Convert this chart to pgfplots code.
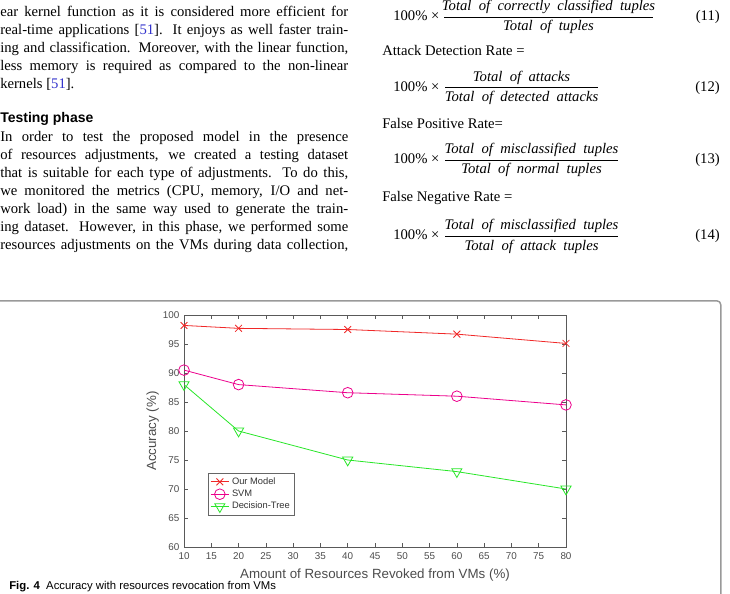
\documentclass[border=0pt]{standalone}
\usepackage{pgfplots}
\pgfplotsset{compat=1.18}
\usepackage{fontspec}
\setmainfont{Liberation Serif}
\setsansfont{Liberation Sans}
\definecolor{citeblue}{rgb}{0.2,0.2,0.8}
\definecolor{framegray}{gray}{0.6}
\newcommand{\cit}[1]{[\textcolor{citeblue}{#1}]}
\newcommand{\Lj}[2]{\node[anchor=base west,inner sep=0pt] at (0,#1) {\hbox to 261pt{#2}};}
\newcommand{\Ll}[2]{\node[anchor=base west,inner sep=0pt] at (0,#1) {#2};}
\newcommand{\Fr}[6]{% y-bar, x1, x2, numerator, denominator, number
  \draw[line width=0.45pt] (#2,#1) -- (#3,#1);
  \node[anchor=base,inner sep=0pt] at ({(#2+#3)/2},#1-6) {\itshape #4};
  \node[anchor=base,inner sep=0pt] at ({(#2+#3)/2},#1+14) {\itshape #5};
  \node[anchor=base west,inner sep=0pt] at (393,#1+4) {100\% ×};
  \node[anchor=base east,inner sep=0pt] at (720,#1+4) {(#6)};}
\begin{document}
\begin{tikzpicture}
\path[use as bounding box] (0,0) rectangle (547.5pt,444.75pt);
\clip (0,0) rectangle (547.5pt,444.75pt);
\begin{scope}[x=0.75pt,y=-0.75pt,yshift=444.75pt]
\fontsize{11}{13}\selectfont
% left column
\Lj{16.7}{ear kernel function as it is considered more efficient for}
\Lj{34.5}{real-time applications \cit{51}. It enjoys as well faster train-}
\Lj{52.5}{ing and classification. Moreover, with the linear function,}
\Lj{70.5}{less memory is required as compared to the non-linear}
\Ll{88.3}{kernels \cit{51}.}
\node[anchor=base west,inner sep=0pt] at (0,123) {\sffamily\bfseries\fontsize{10.5}{12}\selectfont Testing phase};
\Lj{141.7}{In order to test the proposed model in the presence}
\Lj{159.8}{of resources adjustments, we created a testing dataset}
\Lj{177.6}{that is suitable for each type of adjustments. To do this,}
\Lj{195.5}{we monitored the metrics (CPU, memory, I/O and net-}
\Lj{213.3}{work load) in the same way used to generate the train-}
\Lj{231.2}{ing dataset. However, in this phase, we performed some}
\Lj{249.2}{resources adjustments on the VMs during data collection,}
% right column
\Fr{17}{444}{653}{Total\ \ of\ \ correctly\ \ classified\ \ tuples}{Total\ \ of\ \ tuples}{11}
\node[anchor=base west,inner sep=0pt] at (382,56) {Attack Detection Rate =};
\Fr{87.7}{445}{598}{Total\ \ of\ \ attacks}{Total\ \ of\ \ detected\ \ attacks}{12}
\node[anchor=base west,inner sep=0pt] at (382,129) {False Positive Rate=};
\Fr{160}{445}{618}{Total\ \ of\ \ misclassified\ \ tuples}{Total\ \ of\ \ normal\ \ tuples}{13}
\node[anchor=base west,inner sep=0pt] at (382,201.7) {False Negative Rate =};
\Fr{236}{445}{618}{Total\ \ of\ \ misclassified\ \ tuples}{Total\ \ of\ \ attack\ \ tuples}{14}
% figure frame
\draw[framegray,line width=1.1pt,rounded corners=3] (-10,300.8) -- (720.8,300.8) -- (720.8,620);
\node[anchor=base west,inner sep=0pt] at (9,589.5) {\sffamily\fontsize{8.5}{10}\selectfont\textbf{Fig. 4}\ \ Accuracy with resources revocation from VMs};
\end{scope}
\begin{axis}[
  at={(138pt,34.5pt)}, anchor=south west,
  scale only axis, width=286.5pt, height=174pt,
  xmin=10, xmax=80, ymin=60, ymax=100,
  xtick={10,15,...,80}, ytick={60,65,...,100},
  tick align=inside, tick pos=both,
  major tick length=3pt,
  axis line style={black!65, line width=0.5pt},
  tick style={black!65, line width=0.45pt},
  /pgf/number format/assume math mode=true,
  tick label style={font=\sffamily\fontsize{7.4}{8}\selectfont, text=black!70},
  xticklabel style={yshift=-1pt},
  xlabel={Amount of Resources Revoked from VMs (\%)},
  ylabel={Accuracy (\%)},
  label style={font=\sffamily\fontsize{10}{12}\selectfont, text=black!70},
  xlabel style={yshift=0.5pt},
  ylabel style={yshift=-4pt},
  legend style={at={(0.063,0.134)}, anchor=south west, draw=black!60,
    font=\sffamily\fontsize{7}{8}\selectfont, text=black!80,
    inner sep=1.5pt, row sep=-1.2pt, cells={anchor=west}},
  legend image code/.code={\draw[mark repeat=2,mark phase=2] plot coordinates {(0cm,0cm) (0.24cm,0cm) (0.48cm,0cm)};},
]
\addplot[color={rgb,255:red,240;green,40;blue,40}, line width=0.6pt, mark=x, mark size=3.6pt, mark options={line width=0.6pt}]
  coordinates {(10,98.2) (20,97.7) (40,97.5) (60,96.7) (80,95.1)};
\addlegendentry{Our Model}
\addplot[color=magenta, line width=0.6pt, mark=o, mark size=4pt, mark options={line width=0.6pt}]
  coordinates {(10,90.5) (20,88.0) (40,86.6) (60,86.0) (80,84.5)};
\addlegendentry{SVM}
\addplot[color={rgb,255:red,40;green,230;blue,40}, line width=0.6pt, mark=triangle, mark size=4.4pt, mark options={line width=0.6pt, rotate=180}]
  coordinates {(10,88.0) (20,80.0) (40,75.0) (60,73.0) (80,70.0)};
\addlegendentry{Decision-Tree}
\end{axis}
\end{tikzpicture}
\end{document}
